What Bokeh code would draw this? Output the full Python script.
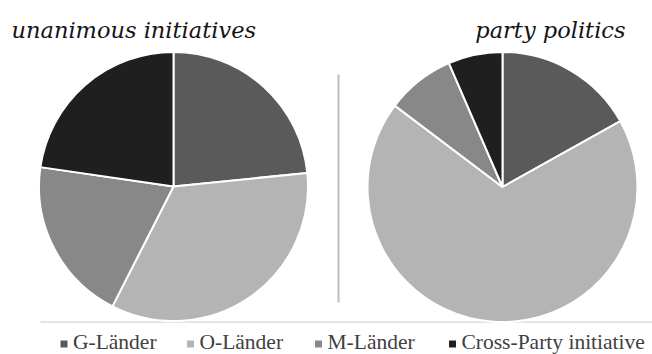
import numpy as np
from bokeh.plotting import figure
from bokeh.models import Range1d, ColumnDataSource
from bokeh.core.properties import value
from bokeh.embed import file_html
from bokeh.resources import INLINE

# ---- data (shares in %) ----
categories = ["G-Länder", "O-Länder", "M-Länder", "Cross-Party initiative"]
unanimous_share = [23.4, 34.1, 19.8, 22.7]
party_share = [16.9, 68.4, 8.2, 6.5]
colors = ["#5a5a5a", "#b4b4b4", "#888888", "#1f1f1f"]
titles = ["unanimous initiatives", "party politics"]

W, H = 652, 354
SERIF = value("Liberation Serif, Times New Roman, serif")
TITLE_FONT = value("DejaVu Serif")
p = figure(width=W, height=H, x_range=Range1d(0, W), y_range=Range1d(0, H),
           output_backend="svg", toolbar_location=None, min_border=0)
p.axis.visible = False
p.grid.visible = False
p.outline_line_color = None
p.background_fill_color = "white"
p.border_fill_color = "white"

def py(ypx):
    return H - ypx

# separator lines
p.line(x=[338, 338], y=[py(74), py(302)], line_color="#bdbdbd", line_width=2)
p.line(x=[40, 652], y=[py(321.5), py(321.5)], line_color="#c8c8c8", line_width=1)

def add_pie(vals, cx, cy, r):
    v = np.array(vals, dtype=float)
    frac = v / v.sum()
    ends = np.cumsum(frac) * 2 * np.pi
    starts = ends - frac * 2 * np.pi
    src = ColumnDataSource(dict(start=np.pi / 2 - starts, end=np.pi / 2 - ends,
                                color=colors, cat=categories))
    p.wedge(x=cx, y=py(cy), radius=r, start_angle="start", end_angle="end",
            direction="clock", fill_color="color", line_color="white",
            line_width=2, source=src)

add_pie(unanimous_share, 173, 186, 134.5)
add_pie(party_share, 502, 186.5, 135)

# titles
p.text(x=[11], y=[py(29)], text=[titles[0]], text_baseline="alphabetic",
       text_align="left", text_font=TITLE_FONT,
       text_font_style="italic", text_font_size="22.5px", text_color="#141414")
p.text(x=[625], y=[py(29)], text=[titles[1]], text_baseline="alphabetic",
       text_align="right", text_font=TITLE_FONT,
       text_font_style="italic", text_font_size="22.5px", text_color="#141414")

# legend
leg_x = [63.5, 190, 318, 452]
p.scatter(x=leg_x, y=[py(343.5)] * 4, marker="square", size=7,
          fill_color=colors, line_color=None)
p.text(x=[x + 9 for x in leg_x], y=[py(341)] * 4, text=categories,
       text_baseline="alphabetic", text_align="left",
       text_font=SERIF, text_font_size="21.5px", text_color="#404040")

open("out.html", "w").write(file_html(p, INLINE))
